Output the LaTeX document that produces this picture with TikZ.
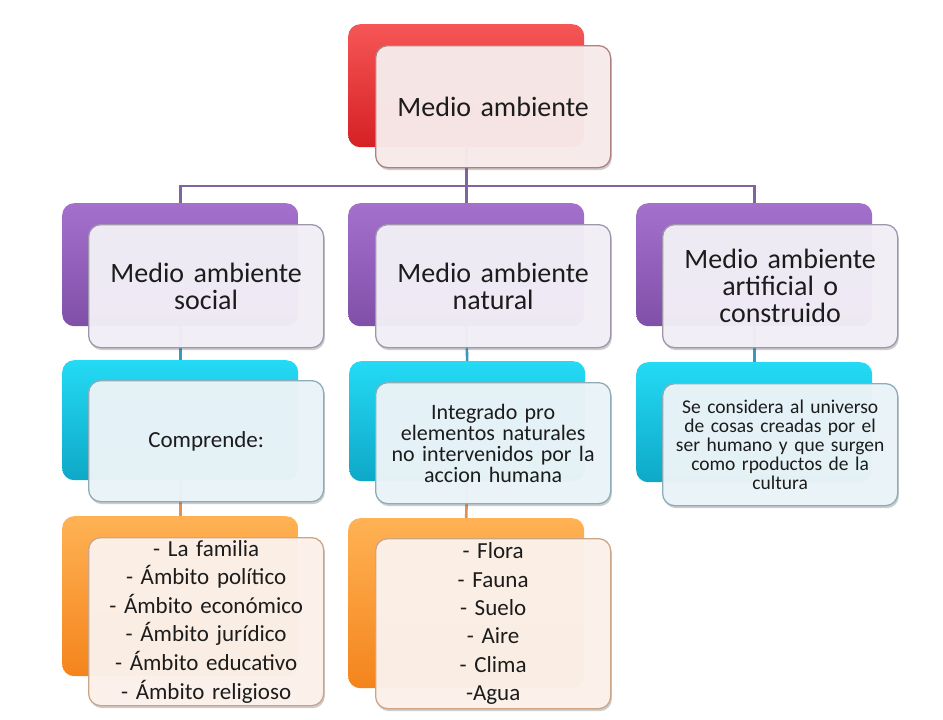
\documentclass[tikz,border=0pt]{standalone}
\usepackage{fontspec}
\setmainfont{Carlito}
\usetikzlibrary{shadows}
\definecolor{txt}{RGB}{28,28,28}
\definecolor{redT}{RGB}{246,86,86}
\definecolor{redB}{RGB}{214,32,36}
\definecolor{purT}{RGB}{164,112,204}
\definecolor{purB}{RGB}{128,80,168}
\definecolor{cyaT}{RGB}{36,218,244}
\definecolor{cyaB}{RGB}{14,168,200}
\definecolor{oraT}{RGB}{255,178,84}
\definecolor{oraB}{RGB}{244,132,28}
\definecolor{redF}{RGB}{249,236,236}
\definecolor{purF}{RGB}{243,240,248}
\definecolor{cyaF}{RGB}{236,245,249}
\definecolor{oraF}{RGB}{253,243,236}
\definecolor{redD}{RGB}{176,128,128}
\definecolor{purD}{RGB}{160,150,172}
\definecolor{cyaD}{RGB}{140,172,184}
\definecolor{oraD}{RGB}{204,164,134}
\definecolor{purL}{RGB}{128,100,162}
\definecolor{cyaL}{RGB}{62,150,188}
\definecolor{oraL}{RGB}{226,142,84}
\begin{document}
\begin{tikzpicture}[x=1pt,y=-1pt,
  back/.style={anchor=north west, rounded corners=12pt, minimum width=236pt, inner sep=0pt},
  front/.style={anchor=north west, rounded corners=12pt, minimum width=235pt, inner sep=0pt,
    text width=224pt, align=center, line width=1.3pt, fill opacity=0.96, text opacity=1, text=txt,
    drop shadow={shadow xshift=1.2pt, shadow yshift=-2.5pt, opacity=0.28, fill=black!70}},
  redback/.style={back, top color=redT, bottom color=redB},
  purback/.style={back, top color=purT, bottom color=purB},
  cyaback/.style={back, top color=cyaT, bottom color=cyaB},
  oraback/.style={back, top color=oraT, bottom color=oraB},
  redfront/.style={front, fill=redF, draw=redD},
  purfront/.style={front, fill=purF, draw=purD},
  cyafront/.style={front, fill=cyaF, draw=cyaD},
  orafront/.style={front, fill=oraF, draw=oraD},
  purline/.style={draw=purL, line width=2.6pt},
  cyaline/.style={draw=cyaL, line width=2.6pt},
  oraline/.style={draw=oraL, line width=2.6pt},
  bigtxt/.style={font=\fontsize{28}{27}\selectfont},
]
\useasboundingbox (0,0) rectangle (943,720);
\fill[white] (0,0) rectangle (943,720);

% back boxes (positions only, drawn later)
\path
  (348,24)  node[back, minimum height=123pt] (b0) {}
  (62,203)  node[back, minimum height=123pt] (b1) {}
  (348,203) node[back, minimum height=123pt] (b2) {}
  (636,203) node[back, minimum height=123pt] (b3) {}
  (62,360)  node[back, minimum height=120pt] (c1) {}
  (349,361) node[back, minimum height=120pt] (c2) {}
  (636,362) node[back, minimum height=120pt] (c3) {}
  (62,516)  node[back, minimum height=160pt] (d1) {}
  (348,518) node[back, minimum height=170pt] (d2) {};
\coordinate (hub) at (466,186);

% connectors
\draw[purline] (b0.south) -- (b2.north);
\draw[purline] (b1.north) |- (hub) -| (b3.north);
\draw[cyaline] (b1.south) -- (c1.north);
\draw[cyaline] (b2.south) -- (c2.north);
\draw[cyaline] (b3.south) -- (c3.north);
\draw[oraline] (c1.south) -- (d1.north);
\draw[oraline] (c2.south) -- (d2.north);

% coloured back boxes
\node[redback, minimum height=123pt] at (348,24) {};
\node[purback, minimum height=123pt] at (62,203) {};
\node[purback, minimum height=123pt] at (348,203) {};
\node[purback, minimum height=123pt] at (636,203) {};
\node[cyaback, minimum height=120pt] at (62,360) {};
\node[cyaback, minimum height=120pt] at (349,361) {};
\node[cyaback, minimum height=120pt] at (636,362) {};
\node[oraback, minimum height=160pt] at (62,516) {};
\node[oraback, minimum height=170pt] at (348,518) {};

% front boxes with text
\node[redfront, minimum height=122pt, bigtxt] (f0) at (375,45) {Medio ambiente};
\node[purfront, minimum height=123pt, bigtxt] (f1) at (88,224) {Medio ambiente\\social};
\node[purfront, minimum height=123pt, bigtxt] (f2) at (375,224) {Medio ambiente\\natural};
\node[purfront, minimum height=123pt, bigtxt] (f3) at (662,224) {Medio ambiente\\artificial o\\construido};
\node[cyafront, minimum height=121pt, font=\fontsize{23}{24}\selectfont] (g1) at (88,380) {Comprende:};
\node[cyafront, minimum height=121pt, font=\fontsize{22}{21}\selectfont] (g2) at (375,382) {Integrado pro\\elementos naturales\\no intervenidos por la\\accion humana};
\node[cyafront, minimum height=122pt, font=\fontsize{19.5}{19}\selectfont] (g3) at (662,383) {Se considera al universo\\de cosas creadas por el\\ser humano y que surgen\\como rpoductos de la\\cultura};
\node[orafront, minimum height=168pt, font=\fontsize{23}{28.6}\selectfont] (e1) at (88,537) {- La familia\\- Ámbito político\\- Ámbito económico\\- Ámbito jurídico\\- Ámbito educativo\\- Ámbito religioso};
\node[orafront, minimum height=170pt, font=\fontsize{23}{28.3}\selectfont] (e2) at (375,538) {- Flora\\- Fauna\\- Suelo\\- Aire\\- Clima\\-Agua};
\end{tikzpicture}
\end{document}
